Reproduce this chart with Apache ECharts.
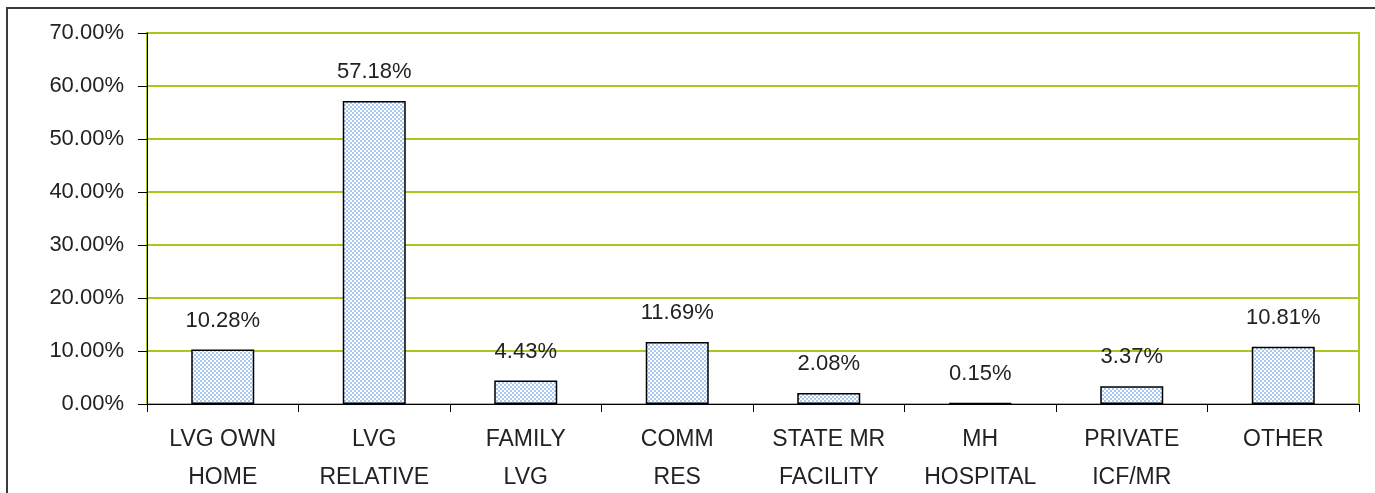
<!DOCTYPE html>
<html>
<head>
<meta charset="utf-8">
<script src="https://cdn.jsdelivr.net/npm/echarts@6/dist/echarts.min.js"></script>
<style>
  html, body { margin: 0; padding: 0; background: #fff; }
  #chart { width: 1375px; height: 493px; }
</style>
</head>
<body>
<div id="chart"></div>
<script>
// categories and values (percent)
const categories = ['LVG OWN\nHOME', 'LVG\nRELATIVE', 'FAMILY\nLVG', 'COMM\nRES', 'STATE MR\nFACILITY', 'MH\nHOSPITAL', 'PRIVATE\nICF/MR', 'OTHER']
const values = [10.28, 57.18, 4.43, 11.69, 2.08, 0.15, 3.37, 10.81]
const yTicks = [0, 10, 20, 30, 40, 50, 60, 70]

// checkered fill like the original
function makePattern() {
  const c = document.createElement('canvas')
  c.width = 4
  c.height = 4
  const ctx = c.getContext('2d')
  ctx.fillStyle = '#ffffff'
  ctx.fillRect(0, 0, 4, 4)
  ctx.fillStyle = '#a9c9f2'
  ctx.fillRect(0, 0, 2, 2)
  ctx.fillRect(2, 2, 2, 2)
  return c
}

const font = 'Liberation Sans, Arial, sans-serif'
const chart = echarts.init(document.getElementById('chart'))

chart.setOption({
  animation: false,
  graphic: [
    {
      type: 'rect',
      shape: { x: 7, y: 8, width: 1400, height: 520 },
      style: { fill: 'none', stroke: '#3a3a3a', lineWidth: 2 },
      z: 100,
    },
  ],
  grid: {
    left: 147, right: 16, top: 33, bottom: 89,
    outerBoundsMode: 'none',
    containLabel: false,
    show: true,
    borderColor: '#a8c820',
    borderWidth: 2,
  },
  xAxis: {
    type: 'category',
    data: categories,
    axisLine: { lineStyle: { color: '#000', width: 1 } },
    axisTick: { show: true, length: 8, lineStyle: { color: '#000' } },
    axisLabel: {
      interval: 0,
      color: '#222',
      fontFamily: font,
      fontSize: 23,
      lineHeight: 38,
      margin: 17,
    },
  },
  yAxis: {
    type: 'value',
    min: yTicks[0],
    max: yTicks[yTicks.length - 1],
    interval: 10,
    axisLine: { show: true, lineStyle: { color: '#000' } },
    axisTick: { show: true, length: 9, lineStyle: { color: '#000' } },
    splitLine: { lineStyle: { color: '#a8c820', width: 2 } },
    axisLabel: {
      color: '#222',
      fontFamily: font,
      fontSize: 22,
      margin: 23,
      formatter: (v) => v.toFixed(2) + '%',
    },
  },
  series: [
    {
      type: 'bar',
      data: values,
      barWidth: 63,
      itemStyle: {
        color: { image: makePattern(), repeat: 'repeat' },
        borderColor: '#000',
        borderWidth: 1.5,
      },
      label: {
        show: true,
        position: 'top',
        distance: 18,
        color: '#222',
        fontFamily: font,
        fontSize: 22,
        formatter: (p) => p.value.toFixed(2) + '%',
      },
    },
  ],
})
</script>
</body>
</html>
